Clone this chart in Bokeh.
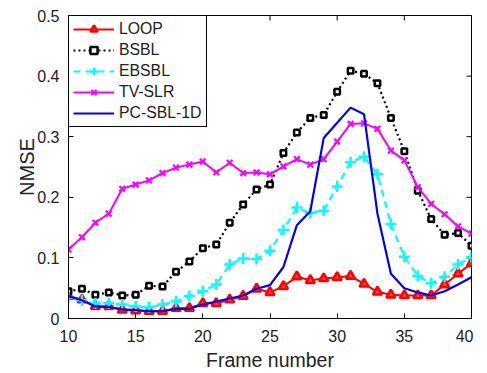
import math
from bokeh.plotting import figure
from bokeh.models import Range1d, Legend, LegendItem, FixedTicker
from bokeh.embed import file_html
from bokeh.resources import INLINE

frames = list(range(10, 41))

loop = [0.037, 0.031, 0.020, 0.020, 0.014, 0.013, 0.012, 0.012, 0.017, 0.017,
        0.025, 0.025, 0.031, 0.037, 0.049, 0.043, 0.053, 0.069, 0.063, 0.066,
        0.068, 0.070, 0.057, 0.044, 0.039, 0.038, 0.038, 0.038, 0.056, 0.074, 0.091]
bsbl = [0.045, 0.049, 0.039, 0.043, 0.038, 0.039, 0.054, 0.053, 0.077, 0.094,
        0.116, 0.122, 0.158, 0.188, 0.213, 0.221, 0.273, 0.307, 0.331, 0.336,
        0.374, 0.409, 0.404, 0.388, 0.331, 0.276, 0.211, 0.164, 0.138, 0.141, 0.120]
ebsbl = [0.035, 0.030, 0.025, 0.025, 0.023, 0.020, 0.018, 0.023, 0.028, 0.037,
         0.045, 0.056, 0.089, 0.099, 0.098, 0.112, 0.146, 0.183, 0.174, 0.178,
         0.218, 0.258, 0.267, 0.238, 0.156, 0.102, 0.070, 0.058, 0.069, 0.089, 0.101]
tvslr = [0.114, 0.134, 0.158, 0.173, 0.214, 0.221, 0.228, 0.240, 0.249, 0.254,
         0.259, 0.241, 0.257, 0.240, 0.241, 0.238, 0.251, 0.263, 0.254, 0.263,
         0.292, 0.321, 0.322, 0.313, 0.277, 0.261, 0.217, 0.189, 0.172, 0.152, 0.140]
pcsbl = [0.037, 0.030, 0.020, 0.019, 0.015, 0.014, 0.012, 0.012, 0.016, 0.016,
         0.023, 0.028, 0.033, 0.038, 0.049, 0.055, 0.085, 0.154, 0.177, 0.298,
         0.323, 0.348, 0.337, 0.173, 0.074, 0.050, 0.043, 0.038, 0.045, 0.056, 0.068]

x_ticks = [10, 15, 20, 25, 30, 35, 40]
y_ticks = [0, 0.1, 0.2, 0.3, 0.4, 0.5]
x_min, x_max = 10, 40
y_min, y_max = 0, 0.5

FONT = "Liberation Sans"
AX = "#222222"
LINE = "black"

p = figure(width=473, height=373, output_backend="svg", toolbar_location=None,
           x_range=Range1d(x_min, x_max), y_range=Range1d(y_min, y_max),
           min_border_left=68, min_border_right=2, min_border_top=15, min_border_bottom=53)
p.xgrid.visible = False
p.ygrid.visible = False
p.outline_line_color = LINE
p.outline_line_width = 1
p.outline_line_alpha = 1

for ax, ticks in ((p.xaxis[0], x_ticks), (p.yaxis[0], y_ticks)):
    ax.ticker = FixedTicker(ticks=ticks)
    ax.major_tick_in = 5
    ax.major_tick_out = 0
    ax.minor_tick_line_color = None
    ax.axis_line_color = LINE
    ax.axis_line_width = 1
    ax.major_tick_line_color = LINE
    ax.major_tick_line_width = 1
    ax.major_label_text_font = FONT
    ax.major_label_text_font_size = "16px"
    ax.major_label_text_color = AX
    ax.axis_label_text_font = FONT
    ax.axis_label_text_font_size = "19.5px"
    ax.axis_label_text_font_style = "normal"
    ax.axis_label_text_color = AX

p.xaxis[0].axis_label = "Frame number"
p.yaxis[0].axis_label = "NMSE"
p.yaxis[0].axis_label_text_font_size = "20px"
p.xaxis[0].major_label_standoff = 11
p.yaxis[0].major_label_standoff = 9
p.xaxis[0].axis_label_standoff = 4
p.yaxis[0].axis_label_standoff = -4

# inside ticks on top and right edges (box on)
p.scatter(x_ticks, [y_max] * len(x_ticks), marker="dash", angle=math.pi / 2, size=10,
          line_color=LINE, line_width=1)
p.scatter([x_max] * len(y_ticks), y_ticks, marker="dash", size=10,
          line_color=LINE, line_width=1)

r_loop_l = p.line(frames, loop, line_color="#FF0000", line_width=2)
r_loop_m = p.scatter(frames, loop, marker="triangle", size=9, fill_color="#FF4040",
                     line_color="#FF0000", line_width=2.5)

r_bsbl_l = p.line(frames, bsbl, line_color="black", line_width=2.2, line_dash="2 3")
r_bsbl_m = p.scatter(frames, bsbl, marker="square", size=5.5, fill_color="white",
                     line_color="black", line_width=2.5)

r_eb_l = p.line(frames, ebsbl, line_color="#00FFFF", line_width=2.2, line_dash="7 5")
r_eb_m = p.scatter(frames, ebsbl, marker="cross", size=11, line_color="#00FFFF", line_width=2.5)

r_tv_l = p.line(frames, tvslr, line_color="#FF00FF", line_width=2)
r_tv_m = p.scatter(frames, tvslr, marker="x", size=8, line_color="#FF00FF", line_width=2.2)

r_pc_l = p.line(frames, pcsbl, line_color="#0000FF", line_width=2.2)

legend = Legend(items=[
    LegendItem(label="LOOP", renderers=[r_loop_l, r_loop_m]),
    LegendItem(label="BSBL", renderers=[r_bsbl_l, r_bsbl_m]),
    LegendItem(label="EBSBL", renderers=[r_eb_l, r_eb_m]),
    LegendItem(label="TV-SLR", renderers=[r_tv_l, r_tv_m]),
    LegendItem(label="PC-SBL-1D", renderers=[r_pc_l]),
], location="top_left")
legend.margin = 0
legend.padding = 4
legend.spacing = 3
legend.glyph_width = 41
legend.glyph_height = 18
legend.label_height = 18
legend.label_standoff = 5
legend.label_text_font = FONT
legend.label_text_font_size = "15.8px"
legend.label_text_color = AX
legend.border_line_color = LINE
legend.border_line_width = 1
legend.border_line_alpha = 1
legend.background_fill_color = "white"
legend.background_fill_alpha = 1
p.add_layout(legend)

open("out.html", "w").write(file_html(p, INLINE))
